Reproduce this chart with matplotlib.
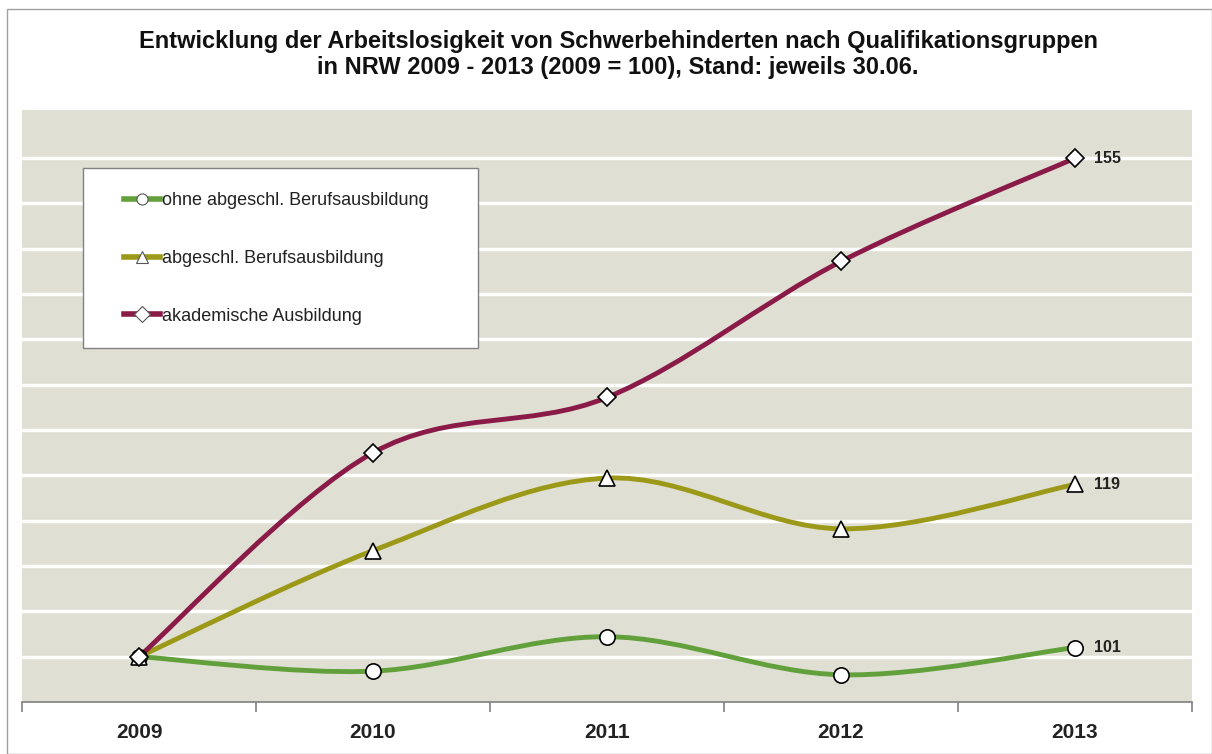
import numpy as np
import matplotlib.pyplot as plt
from matplotlib.path import Path
from matplotlib.patches import PathPatch, Rectangle
from matplotlib.lines import Line2D

plt.rcParams['font.family'] = ['Liberation Sans', 'DejaVu Sans']

years = ['2009', '2010', '2011', '2012', '2013']
ohne = [100, 98.4, 102.2, 98.0, 101]
abgeschl = [100, 111.7, 119.7, 114.1, 119]
akadem = [100, 122.5, 128.6, 143.6, 155]

labels = ['ohne abgeschl. Berufsausbildung', 'abgeschl. Berufsausbildung', 'akademische Ausbildung']
colors = ['#62a03c', '#9c9818', '#8a1a48']
markers = ['o', '^', 'D']
msizes = [11, 12, 9]


def smooth_path(x, y):
    # Excel-like smoothing: Catmull-Rom converted to cubic Bezier segments
    x = np.asarray(x, float)
    y = np.asarray(y, float)
    verts = [(x[0], y[0])]
    codes = [Path.MOVETO]
    n = len(x)
    for i in range(n - 1):
        x0, y0 = (x[i - 1], y[i - 1]) if i > 0 else (x[i], y[i])
        x3, y3 = (x[i + 2], y[i + 2]) if i + 2 < n else (x[i + 1], y[i + 1])
        c1 = (x[i] + (x[i + 1] - x0) / 6, y[i] + (y[i + 1] - y0) / 6)
        c2 = (x[i + 1] - (x3 - x[i]) / 6, y[i + 1] - (y3 - y[i]) / 6)
        verts += [c1, c2, (x[i + 1], y[i + 1])]
        codes += [Path.CURVE4] * 3
    return Path(verts, codes)


fig = plt.figure(figsize=(12.12, 7.54), dpi=100)
fig.patches.append(Rectangle((0.006, 0.0), 0.994, 0.988, transform=fig.transFigure,
                             fill=False, edgecolor='#a0a0a0', linewidth=1.0))

ax = fig.add_axes([0.0182, 0.069, 0.9653, 0.785])
ax.set_facecolor('#dfdfd3')
ax.set_xlim(-0.5, 4.5)
ax.set_ylim(95, 160.3)

for g in range(100, 160, 5):
    ax.axhline(g, color='white', linewidth=2.5, zorder=1)

xs = np.arange(len(years))
series = [ohne, abgeschl, akadem]
for vals, col, mk, ms in zip(series, colors, markers, msizes):
    ax.add_patch(PathPatch(smooth_path(xs, vals), facecolor='none', edgecolor=col,
                           linewidth=3.5, zorder=3, capstyle='round'))
    ax.plot(xs, vals, linestyle='none', marker=mk, markersize=ms, markerfacecolor='white',
            markeredgecolor='black', markeredgewidth=1.2, zorder=4)
    ax.text(xs[-1] + 0.08, vals[-1], f'{vals[-1]:.0f}', fontsize=11.5, fontweight='bold',
            va='center', ha='left', color='#222222', zorder=5)

for s in ['top', 'right', 'left']:
    ax.spines[s].set_visible(False)
ax.spines['bottom'].set_color('#808080')
ax.spines['bottom'].set_linewidth(1.2)
ax.set_yticks([])
ax.set_xticks(xs)
ax.set_xticklabels(years, fontsize=15, fontweight='bold', color='#222222')
ax.tick_params(axis='x', length=0, pad=15)
ax.set_xticks(np.arange(-0.5, 5.0, 1.0), minor=True)
ax.tick_params(axis='x', which='minor', length=7, color='#808080', width=1.2, direction='out')

# legend box (wider than its content, as in the original)
ax.add_patch(Rectangle((0.052, 0.598), 0.338, 0.304, transform=ax.transAxes,
                       facecolor='white', edgecolor='#808080', linewidth=1.0, zorder=6))
handles = [Line2D([0], [0], color=c, linewidth=4, marker=m, markersize=8,
                  markerfacecolor='white', markeredgecolor='#555555', markeredgewidth=0.8)
           for c, m in zip(colors, markers)]
leg = ax.legend(handles, labels, loc='upper left', bbox_to_anchor=(0.087, 0.861),
                fontsize=13, frameon=False, handlelength=2.0, handletextpad=0.1,
                labelspacing=2.25, borderpad=0, borderaxespad=0)
leg.set_zorder(7)
for t in leg.get_texts():
    t.set_color('#222222')

fig.text(0.51, 0.96, 'Entwicklung der Arbeitslosigkeit von Schwerbehinderten nach Qualifikationsgruppen\n'
         'in NRW 2009 - 2013 (2009 = 100), Stand: jeweils 30.06.',
         ha='center', va='top', fontsize=17, fontweight='bold', linespacing=1.17, color='#111111')

fig.savefig('out.png', dpi=100)
